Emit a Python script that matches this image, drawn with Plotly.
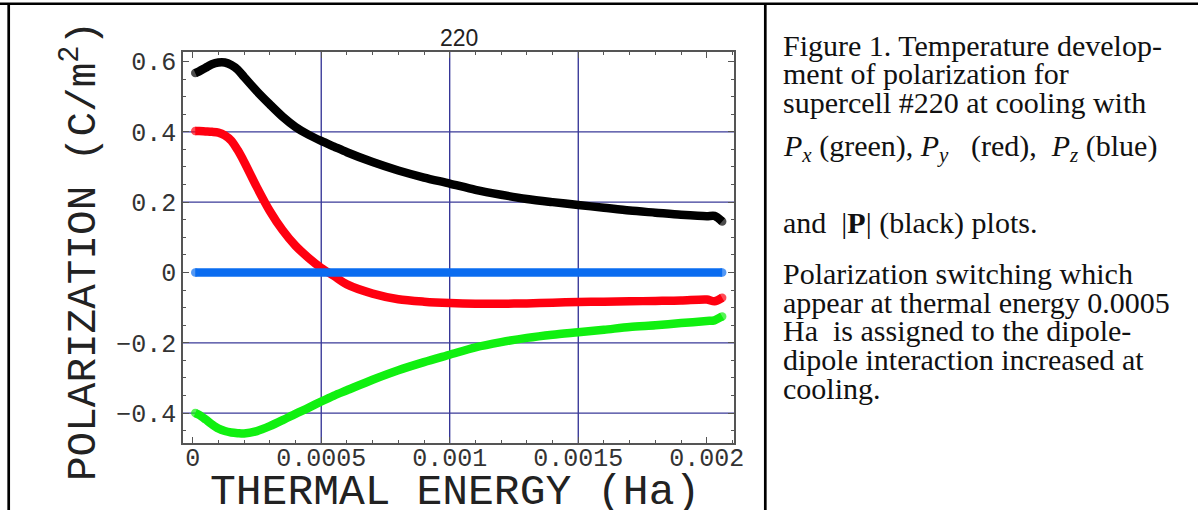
import plotly.graph_objects as go

# ---------------- data ----------------
THERMAL_ENERGY = [0.00001, 0.000025, 0.00005, 0.000075, 0.0001, 0.000125, 0.00015, 0.000175,
                  0.0002, 0.00025, 0.0003, 0.00035, 0.0004, 0.00045, 0.0005, 0.00055,
                  0.0006, 0.0007, 0.0008, 0.0009, 0.001, 0.0011, 0.0012, 0.0013, 0.0014,
                  0.0015, 0.0016, 0.0017, 0.0018, 0.0019, 0.002, 0.00203, 0.00206]
P_ABS = [0.567, 0.572, 0.582, 0.592, 0.597, 0.597, 0.590, 0.577, 0.556, 0.515, 0.478,
         0.443, 0.414, 0.392, 0.374, 0.358, 0.342, 0.314, 0.290, 0.270, 0.253, 0.235,
         0.221, 0.209, 0.200, 0.192, 0.184, 0.176, 0.170, 0.164, 0.160, 0.161, 0.145]
P_Y = [0.402, 0.402, 0.401, 0.400, 0.398, 0.390, 0.375, 0.348, 0.315, 0.242, 0.175,
       0.120, 0.076, 0.042, 0.013, -0.010, -0.034, -0.060, -0.076, -0.083, -0.087,
       -0.089, -0.089, -0.088, -0.086, -0.084, -0.083, -0.082, -0.081, -0.080, -0.077,
       -0.082, -0.072]
P_X = [-0.400, -0.405, -0.418, -0.432, -0.444, -0.451, -0.455, -0.457, -0.458, -0.451,
       -0.437, -0.420, -0.402, -0.385, -0.367, -0.350, -0.335, -0.305, -0.278, -0.255,
       -0.234, -0.213, -0.198, -0.186, -0.177, -0.170, -0.163, -0.155, -0.150, -0.144,
       -0.138, -0.136, -0.125]
P_Z = [0.0] * len(THERMAL_ENERGY)

X_TICKS = [0, 0.0005, 0.001, 0.0015, 0.002]
X_TICK_LABELS = ["0", "0.0005", "0.001", "0.0015", "0.002"]
Y_TICKS = [0.6, 0.4, 0.2, 0, -0.2, -0.4]
Y_TICK_LABELS = ["0.6", "0.4", "0.2", "0", "\u22120.2", "\u22120.4"]
GRID_X = [0.0005, 0.001, 0.0015]
GRID_Y = [0.4, 0.2, -0.2, -0.4]

TITLE = "220"
X_TITLE = "THERMAL ENERGY (Ha)"
Y_TITLE = "POLARIZATION (C/m<sup>2</sup>)"
CAPTION_LINES = [
    "Figure 1. Temperature develop-",
    "ment of polarization for",
    "supercell #220 at cooling with",
    "<i>P</i><sub><i>x</i></sub> (green), <i>P</i><sub><i>y</i></sub>   (red),  <i>P</i><sub><i>z</i></sub> (blue)",
    "and  |<b>P</b>| (black) plots.",
    "Polarization switching which",
    "appear at thermal energy 0.0005",
    "Ha  is assigned to the dipole-",
    "dipole interaction increased at",
    "cooling.",
]

# ---------------- layout geometry ----------------
W, H = 1198, 510
L, R, T, B = 183, 734, 52, 443


def px(x):
    return (x - L) / (R - L)


def py(y):
    return (B - y) / (B - T)


MONO = "Liberation Mono, Courier New, monospace"
SERIF = "Liberation Serif, Times New Roman, serif"

fig = go.Figure()

LW = 8.5


def add_curve(y, color):
    n = len(THERMAL_ENERGY)
    sizes = [LW if i in (0, n - 1) else 0 for i in range(n)]
    fig.add_trace(go.Scatter(
        x=THERMAL_ENERGY, y=y, mode="lines+markers",
        line=dict(color=color, width=LW, shape="spline", smoothing=0.8),
        marker=dict(size=sizes, color=color, line=dict(width=0)),
        showlegend=False, hoverinfo="skip"))


add_curve(P_ABS, "#000000")
add_curve(P_Y, "#ff0010")
add_curve(P_X, "#10f010")
add_curve(P_Z, "#0a6cf0")

# grid lines (Mathematica-style navy grid)
shapes = []
for gx in GRID_X:
    shapes.append(dict(type="line", xref="x", yref="y domain", x0=gx, x1=gx, y0=0, y1=1,
                       line=dict(color="#1c1c8a", width=1.2), layer="below"))
for gy in GRID_Y:
    shapes.append(dict(type="line", xref="x domain", yref="y", x0=0, x1=1, y0=gy, y1=gy,
                       line=dict(color="#3a3a98", width=1.3), layer="below"))

# table borders of the page
shapes.append(dict(type="line", xref="paper", yref="paper", x0=px(0), x1=px(W),
                   y0=py(3.7), y1=py(3.7), line=dict(color="black", width=2.5)))
shapes.append(dict(type="line", xref="paper", yref="paper", x0=px(8.7), x1=px(8.7),
                   y0=py(3.7), y1=py(H + 5), line=dict(color="black", width=2.7)))
shapes.append(dict(type="line", xref="paper", yref="paper", x0=px(765.3), x1=px(765.3),
                   y0=py(3.7), y1=py(H + 5), line=dict(color="black", width=2.7)))

annotations = [
    dict(text=TITLE, xref="paper", yref="paper", x=px(459), y=py(38),
         xanchor="center", yanchor="middle", showarrow=False,
         font=dict(family="Liberation Sans, Arial, sans-serif", size=23, color="#222")),
    dict(text=X_TITLE, xref="paper", yref="paper", x=px(455), y=py(492),
         xanchor="center", yanchor="middle", showarrow=False,
         font=dict(family=MONO, size=43, color="#222")),
    dict(text=Y_TITLE, xref="paper", yref="paper", x=px(80), y=py(251),
         xanchor="center", yanchor="middle", showarrow=False, textangle=-90,
         font=dict(family=MONO, size=41, color="#222")),
]

CAPTION_Y = [45, 73, 102, 148, 223, 273, 302, 330, 359, 388]
for line, yc in zip(CAPTION_LINES, CAPTION_Y):
    annotations.append(dict(text=line, xref="paper", yref="paper", x=px(781), y=py(yc),
                            xanchor="left", yanchor="middle", showarrow=False,
                            font=dict(family=SERIF, size=30, color="#111")))

fig.update_layout(
    width=W, height=H, autosize=False,
    margin=dict(l=L, r=W - R, t=T, b=H - B, pad=0),
    paper_bgcolor="white", plot_bgcolor="white",
    shapes=shapes, annotations=annotations, showlegend=False,
    xaxis=dict(range=[-0.0000377, 0.002106], tickvals=X_TICKS, ticktext=X_TICK_LABELS,
               showgrid=False, zeroline=False, showline=True, linecolor="#555",
               linewidth=1.5, mirror="allticks", ticks="inside", ticklen=6,
               tickcolor="#555", tickwidth=1.2, ticklabelstandoff=-9,
               minor=dict(dtick=0.0001, ticks="inside", ticklen=3.5, tickcolor="#555",
                          tickwidth=1, showgrid=False),
               tickfont=dict(family=MONO, size=25, color="#333")),
    yaxis=dict(range=[-0.485, 0.627], tickvals=Y_TICKS, ticktext=Y_TICK_LABELS,
               showgrid=False, zeroline=False, showline=True, linecolor="#555",
               linewidth=1.5, mirror="allticks", ticks="inside", ticklen=6,
               tickcolor="#555", tickwidth=1.2,
               minor=dict(dtick=0.05, ticks="inside", ticklen=3.5, tickcolor="#555",
                          tickwidth=1, showgrid=False),
               tickfont=dict(family=MONO, size=25, color="#333")),
)

fig.write_html("out.html")
